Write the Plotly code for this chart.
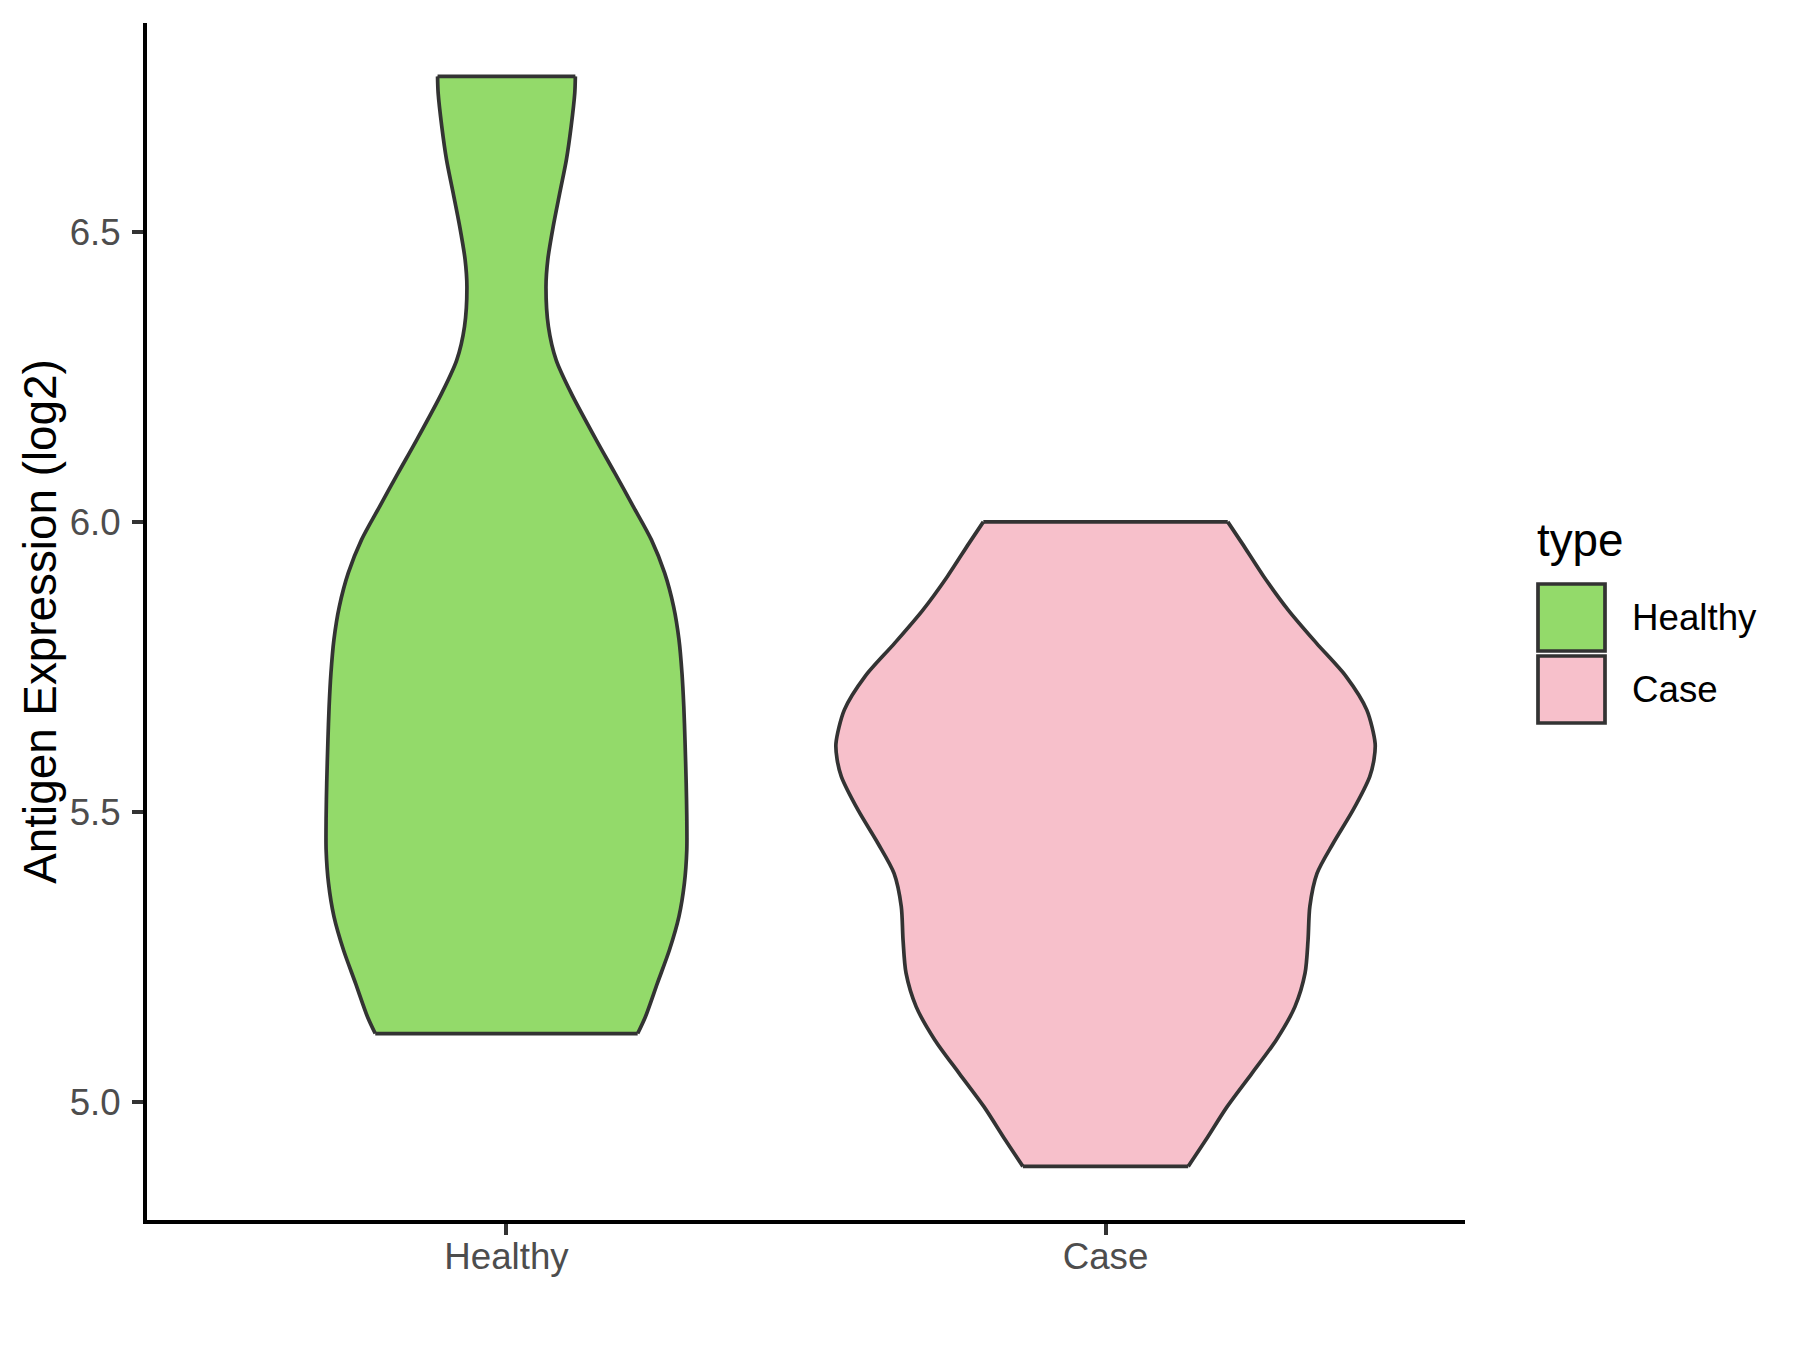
import plotly.graph_objects as go

# ---------------- data ----------------
categories = ["Healthy", "Case"]
cat_pos = [1, 2]

healthy_y = [6.768, 6.739, 6.682, 6.624, 6.567, 6.509, 6.452, 6.406, 6.337, 6.279,
             6.222, 6.141, 6.084, 6.026, 5.969, 5.912, 5.854, 5.797, 5.739, 5.682,
             5.624, 5.550, 5.492, 5.434, 5.377, 5.320, 5.262, 5.205, 5.147, 5.118]
healthy_halfwidth = [0.115, 0.114, 0.108, 0.100, 0.089, 0.078, 0.069, 0.066, 0.070, 0.083,
                     0.108, 0.150, 0.181, 0.212, 0.242, 0.264, 0.279, 0.288, 0.293, 0.296,
                     0.298, 0.300, 0.301, 0.301, 0.297, 0.288, 0.272, 0.252, 0.232, 0.219]

case_y = [6.000, 5.963, 5.906, 5.848, 5.791, 5.733, 5.676, 5.618, 5.590, 5.561, 5.503,
          5.446, 5.394, 5.337, 5.279, 5.222, 5.164, 5.107, 5.049, 4.992, 4.934, 4.889]
case_halfwidth = [0.204, 0.228, 0.264, 0.305, 0.352, 0.402, 0.436, 0.450, 0.448, 0.441, 0.413,
                  0.380, 0.353, 0.341, 0.338, 0.333, 0.316, 0.285, 0.244, 0.203, 0.167, 0.138]

y_tick_vals = [5.0, 5.5, 6.0, 6.5]
y_tick_text = ["5.0", "5.5", "6.0", "6.5"]

colors = {"Healthy": "#93DA6A", "Case": "#F7C0CB"}
outline = "#333333"
FONT = "Liberation Sans, Arial, Helvetica, sans-serif"
OUT_W = 3.7

fig = go.Figure()

for name, pos, ys, hws in [("Healthy", cat_pos[0], healthy_y, healthy_halfwidth),
                           ("Case", cat_pos[1], case_y, case_halfwidth)]:
    left_x = [pos - w for w in hws]
    right_x = [pos + w for w in hws]
    # filled body
    fig.add_trace(go.Scatter(
        x=left_x + right_x[::-1], y=list(ys) + list(ys)[::-1],
        mode="lines", fill="toself", fillcolor=colors[name],
        line=dict(width=0, color=colors[name]),
        name=name, showlegend=False, hoverinfo="skip"))
    # smooth sides
    fig.add_trace(go.Scatter(
        x=left_x + [None] + right_x, y=list(ys) + [None] + list(ys),
        mode="lines", line=dict(color=outline, width=OUT_W, shape="spline", smoothing=0.8),
        showlegend=False, hoverinfo="skip", connectgaps=False))
    # flat top / bottom (trimmed at the data extremes)
    fig.add_trace(go.Scatter(
        x=[left_x[0], right_x[0], None, left_x[-1], right_x[-1]],
        y=[ys[0], ys[0], None, ys[-1], ys[-1]],
        mode="lines", line=dict(color=outline, width=OUT_W),
        showlegend=False, hoverinfo="skip", connectgaps=False))

# ---------------- layout ----------------
W, H = 1800, 1350
PAGE_OFF = 8  # default page body margin
L, R, T, B = 147 - PAGE_OFF, 335 + PAGE_OFF, 23 - PAGE_OFF, 130 + PAGE_OFF
pw, ph = W - L - R, H - T - B


def px_x(px):
    return (px - PAGE_OFF - L) / pw


def px_y(py):
    return (H - B - (py - PAGE_OFF)) / ph


fig.update_layout(
    width=W, height=H,
    margin=dict(l=L, r=R, t=T, b=B),
    paper_bgcolor="white", plot_bgcolor="white",
    font=dict(family=FONT, color="black"),
    xaxis=dict(
        range=[0.4, 2.6], tickvals=cat_pos, ticktext=categories,
        showgrid=False, zeroline=False,
        showline=True, linecolor="black", linewidth=4,
        ticks="outside", ticklen=11, tickwidth=3.5, tickcolor=outline,
        tickfont=dict(family=FONT, size=36.7, color="#4D4D4D"),
        ticklabelstandoff=-10,
    ),
    yaxis=dict(
        range=[4.7966, 6.860], tickvals=y_tick_vals, ticktext=y_tick_text,
        showgrid=False, zeroline=False,
        showline=True, linecolor="black", linewidth=4,
        ticks="outside", ticklen=11, tickwidth=3.5, tickcolor=outline,
        tickfont=dict(family=FONT, size=36.7, color="#4D4D4D"),
        ticklabelstandoff=4,
        title=dict(text="Antigen Expression (log2)",
                   font=dict(family=FONT, size=45.8, color="black"), standoff=0),
    ),
    showlegend=False,
)

# manual legend (ggplot style)
fig.add_annotation(x=px_x(1535), y=px_y(540), xref="paper", yref="paper",
                   text="type", showarrow=False, xanchor="left", yanchor="middle",
                   font=dict(family=FONT, size=45.8, color="black"))
key_rows = [(584, 651), (656, 723)]
for name, (y0, y1) in zip(categories, key_rows):
    fig.add_shape(type="rect", xref="paper", yref="paper",
                  x0=px_x(1538), x1=px_x(1605), y0=px_y(y1), y1=px_y(y0),
                  fillcolor=colors[name], line=dict(color=outline, width=OUT_W))
    fig.add_annotation(x=px_x(1630), y=px_y((y0 + y1) / 2), xref="paper", yref="paper",
                       text=name, showarrow=False, xanchor="left", yanchor="middle",
                       font=dict(family=FONT, size=36.7, color="black"))

fig.write_html("out.html")
